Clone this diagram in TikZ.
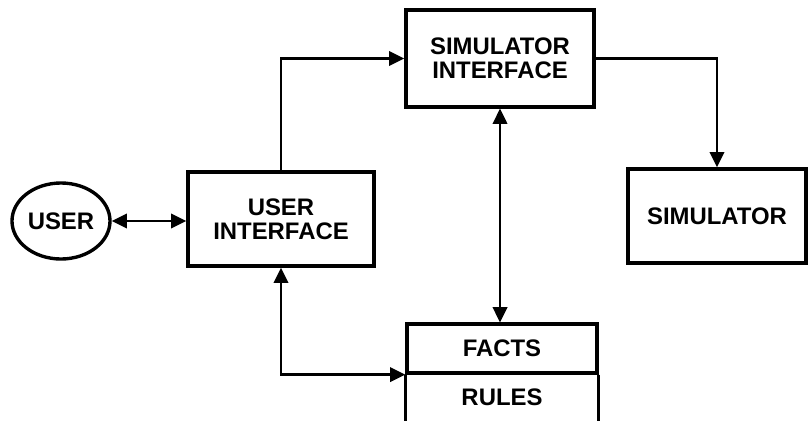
\documentclass[tikz,border=0pt]{standalone}
\usepackage{fontspec}
\setmainfont{Liberation Sans}
\usetikzlibrary{arrows.meta,shapes.geometric}
\begin{document}
\begin{tikzpicture}[x=0.025cm,y=-0.025cm,
  box/.style={draw,line width=2.4pt,align=center,inner sep=0pt,
    font=\fontsize{17}{17}\selectfont\bfseries},
  link/.style={line width=1.6pt,{Triangle[length=3.8mm,width=3.6mm]}-{Triangle[length=3.8mm,width=3.6mm]}},
  tolink/.style={line width=1.6pt,-{Triangle[length=3.8mm,width=3.6mm]}}]

\useasboundingbox (0,0) rectangle (808,421);

\node[box,ellipse,minimum width=2.45cm,minimum height=1.9cm] (user) at (61,221) {USER};
\node[box,minimum width=4.65cm,minimum height=2.35cm] (ui) at (281,219) {USER\\INTERFACE};
\node[box,minimum width=4.7cm,minimum height=2.42cm] (si) at (500,58.5) {SIMULATOR\\INTERFACE};
\node[box,minimum width=4.45cm,minimum height=2.35cm] (sim) at (717,216) {SIMULATOR};
\node[box,minimum width=4.75cm,minimum height=1.22cm] (facts) at (502,348.5) {FACTS};
\node[box,draw=none,minimum width=4.75cm,minimum height=1.2cm] (rules) at (502,397) {RULES};

% open bottom of the knowledge base
\draw[line width=2.4pt] (facts.south west) -- (facts.south west |- 0,421);
\draw[line width=2.4pt] (facts.south east) -- (facts.south east |- 0,421);

\draw[link] (user.east) -- (user.east -| ui.west);
\draw[tolink] (ui.north) |- (si.west);
\draw[tolink] (si.east) -| (sim.north);
\draw[link] (si.south) -- (si.south |- facts.north);
\draw[link] (ui.south) |- (facts.south west);
\end{tikzpicture}
\end{document}
